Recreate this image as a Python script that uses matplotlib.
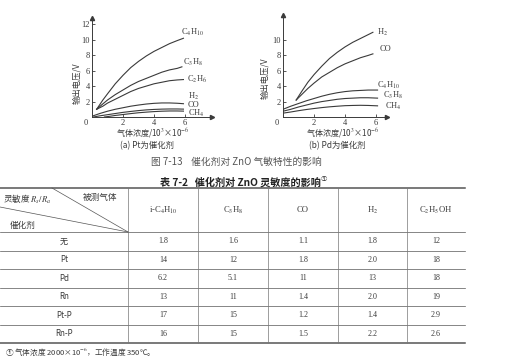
import matplotlib
matplotlib.use("Agg")
import matplotlib.pyplot as plt

plt.rcParams['font.family'] = ['Liberation Serif', 'Noto Sans CJK SC', 'DejaVu Sans']
plt.rcParams['mathtext.fontset'] = 'stix'
cjk = ['Noto Sans CJK SC', 'Liberation Serif', 'DejaVu Sans']
ink = '#3a3a3a'

# (a) Pt catalyst: output voltage vs gas concentration
a_gases = ["C$_4$H$_{10}$", "C$_3$H$_8$", "C$_2$H$_6$", "H$_2$", "CO", "CH$_4$"]
a_x = [
    [0.3, 0.7, 1, 1.5, 2, 2.5, 3, 3.5, 4, 4.5, 5, 5.5, 5.9],
    [0.3, 0.7, 1, 1.5, 2, 2.5, 3, 3.5, 4, 4.5, 5, 5.5, 5.8],
    [0.3, 0.7, 1, 1.5, 2, 2.5, 3, 3.5, 4, 4.5, 5, 5.5, 5.9],
    [0, 0.5, 1, 1.5, 2, 2.5, 3, 3.5, 4, 4.5, 5, 5.5, 5.9],
    [0.1, 0.5, 1, 1.5, 2, 2.5, 3, 3.5, 4, 4.5, 5, 5.5, 5.9],
    [0.8, 1, 1.5, 2, 2.5, 3, 3.5, 4, 4.5, 5, 5.5, 5.9],
]
a_y = [
    [1.0, 2.2, 3.0, 4.3, 5.4, 6.4, 7.2, 7.9, 8.5, 9.0, 9.5, 9.9, 10.2],
    [1.0, 1.7, 2.2, 2.9, 3.5, 4.1, 4.6, 5.0, 5.4, 5.8, 6.1, 6.3, 6.5],
    [1.0, 1.4, 1.8, 2.3, 2.8, 3.3, 3.7, 4.0, 4.3, 4.5, 4.7, 4.8, 4.85],
    [0.1, 0.45, 0.75, 1.0, 1.2, 1.4, 1.55, 1.68, 1.77, 1.82, 1.82, 1.78, 1.72],
    [0.0, 0.15, 0.3, 0.45, 0.6, 0.72, 0.83, 0.92, 0.98, 1.02, 1.04, 1.04, 1.02],
    [0.0, 0.05, 0.2, 0.32, 0.44, 0.55, 0.63, 0.7, 0.75, 0.78, 0.78, 0.76],
]
a_lab = [(5.75, 10.9), (5.9, 7.1), (6.1, 4.9), (6.2, 2.7), (6.2, 1.55), (6.2, 0.45)]

# (b) Pd catalyst
b_gases = ["H$_2$", "CO", "C$_4$H$_{10}$", "C$_3$H$_8$", "CH$_4$"]
b_x = [
    [0.85, 1.2, 1.6, 2, 2.5, 3, 3.5, 4, 4.5, 5, 5.5, 5.8],
    [0.85, 1.2, 1.6, 2, 2.5, 3, 3.5, 4, 4.5, 5, 5.5, 5.8],
    [0, 0.5, 1, 1.5, 2, 2.5, 3, 3.5, 4, 4.5, 5, 5.5, 6.1],
    [0, 0.5, 1, 1.5, 2, 2.5, 3, 3.5, 4, 4.5, 5, 5.5, 6.1],
    [0, 0.5, 1, 1.5, 2, 2.5, 3, 3.5, 4, 4.5, 5, 5.5, 6.1],
]
b_y = [
    [2.2, 3.3, 4.5, 5.5, 6.6, 7.6, 8.4, 9.1, 9.7, 10.2, 10.7, 11.0],
    [2.2, 2.9, 3.7, 4.4, 5.2, 5.8, 6.4, 6.9, 7.3, 7.7, 8.0, 8.2],
    [1.0, 1.4, 1.75, 2.1, 2.4, 2.7, 2.95, 3.15, 3.3, 3.4, 3.45, 3.5, 3.5],
    [0.75, 1.0, 1.3, 1.55, 1.8, 2.0, 2.15, 2.3, 2.4, 2.45, 2.5, 2.5, 2.45],
    [0.5, 0.65, 0.82, 0.97, 1.1, 1.22, 1.32, 1.4, 1.47, 1.5, 1.52, 1.5, 1.45],
]
b_lab = [(6.05, 11.0), (6.25, 8.8), (6.05, 4.15), (6.45, 2.85), (6.6, 1.4)]

# table 7-2
t_cols = ["i-C$_4$H$_{10}$", "C$_3$H$_8$", "CO", "H$_2$", "C$_2$H$_5$OH"]
t_rows = ["无", "Pt", "Pd", "Rn", "Pt-P", "Rn-P"]
t_vals = [
    ["1.8", "1.6", "1.1", "1.8", "12"],
    ["14", "12", "1.8", "2.0", "18"],
    ["6.2", "5.1", "11", "13", "18"],
    ["13", "11", "1.4", "2.0", "19"],
    ["17", "15", "1.2", "1.4", "2.9"],
    ["16", "15", "1.5", "2.2", "2.6"],
]

W, H = 505, 361
fig = plt.figure(figsize=(W / 100, H / 100), dpi=100)

bg = fig.add_axes([0, 0, 1, 1])
bg.set_xlim(0, W)
bg.set_ylim(H, 0)
bg.axis('off')


def px_axes(x0, y0, w, h):
    return fig.add_axes([x0 / W, 1 - (y0 + h) / H, w / W, h / H])


def chart(ax, xs, ys, names, labpos, xmax, ymax, yt):
    for x, y, name, (lx, ly) in zip(xs, ys, names, labpos):
        ax.plot(x, y, color=ink, lw=0.8)
        ax.text(lx, ly, name, fontsize=6, color=ink, ha='left', va='center')
    ax.set_xlim(0, xmax)
    ax.set_ylim(0, ymax)
    ax.set_xticks([2, 4, 6])
    ax.set_yticks(yt)
    ax.tick_params(direction='in', length=2, width=0.6, labelsize=6, pad=1.5, colors=ink)
    for s in ['top', 'right']:
        ax.spines[s].set_visible(False)
    for s in ['left', 'bottom']:
        ax.spines[s].set_color(ink)
        ax.spines[s].set_linewidth(0.7)
    ax.patch.set_alpha(0)
    ax.plot(1, 0, '>', ms=3, color=ink, transform=ax.transAxes, clip_on=False)
    ax.plot(0, 1, '^', ms=3, color=ink, transform=ax.transAxes, clip_on=False)
    ax.annotate('0', (0, 0), xytext=(-3, -1.5), textcoords='offset points',
                ha='right', va='top', fontsize=6, color=ink)


ax1 = px_axes(92, 18, 120, 99)
chart(ax1, a_x, a_y, a_gases, a_lab, 120 / 15.5, 99 / 7.72, [2, 4, 6, 8, 10, 12])
ax2 = px_axes(283, 15, 104, 102)
chart(ax2, b_x, b_y, b_gases, b_lab, 104 / 15.5, 102 / 7.7, [2, 4, 6, 8, 10])

for cx, cy, cap, xl in [(77, 83, "(a) Pt为催化剂", 153), (265, 78, "(b) Pd为催化剂", 343)]:
    bg.text(cx, cy, "输出电压/V", rotation=90, ha='center', va='center',
            fontsize=6, color=ink, family=cjk)
    bg.text(xl, 133, "气体浓度/10$^3$×10$^{-6}$", ha='center', va='center',
            fontsize=5.8, color=ink, family=cjk)
    bg.text(xl - 6, 146, cap, ha='center', va='center', fontsize=6, color=ink, family=cjk)

bg.text(236, 162, "图 7-13    催化剂对 ZnO 气敏特性的影响", ha='center', va='center',
        fontsize=7, color='#555555', family=cjk)
bg.text(240, 182, "表 7-2   催化剂对 ZnO 灵敏度的影响", ha='center', va='center',
        fontsize=7.3, color='#222222', family=cjk, weight='bold')
bg.text(321, 179, "①", ha='left', va='center', fontsize=4.5, color='#222222', family=cjk)

# table grid
left, right = 0, 465
col_x = [128, 198, 268, 338, 407, 465]
row_y = [188, 232, 250.5, 269, 287.5, 306, 324.5, 343]
for i, y in enumerate(row_y):
    lw = 1.1 if i in (0, len(row_y) - 1) else 0.5
    bg.plot([left, right], [y, y], color='#555555', lw=lw)
for x in col_x[:-1]:
    bg.plot([x, x], [row_y[0], row_y[-1]], color='#777777', lw=0.5)
bg.plot([52, 128], [188, 232], color='#555555', lw=0.5)
bg.plot([0, 128], [207, 232], color='#555555', lw=0.5)
bg.text(3, 199, "灵敏度 $R_s/R_a$", ha='left', va='center', fontsize=6.2, color=ink, family=cjk)
bg.text(100, 197, "被测气体", ha='center', va='center', fontsize=6.2, color=ink, family=cjk)
bg.text(10, 225, "催化剂", ha='left', va='center', fontsize=6.2, color=ink, family=cjk)

centers = [(col_x[i] + col_x[i + 1]) / 2 for i in range(len(t_cols))]
for cx, name in zip(centers, t_cols):
    bg.text(cx, 210, name, ha='center', va='center', fontsize=6.2, color=ink)
for r, (rname, vals) in enumerate(zip(t_rows, t_vals)):
    cy = (row_y[r + 1] + row_y[r + 2]) / 2
    bg.text(64, cy, rname, ha='center', va='center', fontsize=5.8, color=ink, family=cjk)
    for cx, v in zip(centers, vals):
        bg.text(cx, cy, v, ha='center', va='center', fontsize=5.8, color=ink)

bg.text(5, 352, "① 气体浓度 2000×10$^{-6}$，工作温度 350℃。", ha='left', va='center',
        fontsize=5.5, color=ink, family=cjk)

fig.savefig("out.png", dpi=100, facecolor='white')
